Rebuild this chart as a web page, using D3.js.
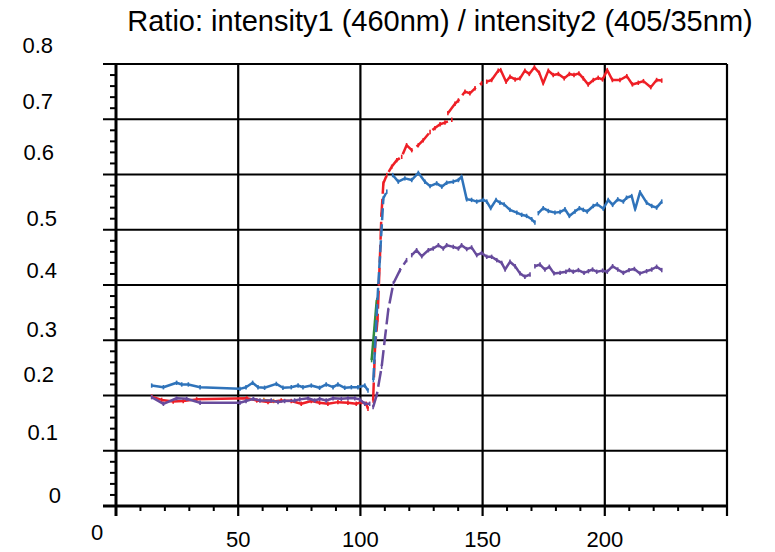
<!DOCTYPE html>
<html>
<head>
<meta charset="utf-8">
<script src="https://cdn.jsdelivr.net/npm/d3@7"></script>
<style>
  html, body { margin: 0; padding: 0; background: #fff; }
  svg { display: block; font-family: "Liberation Sans", Arial, sans-serif; }
</style>
</head>
<body>
<svg id="chart" width="775" height="552"></svg>
<script>
// ---- data ----
const titleText = "Ratio: intensity1 (460nm) / intensity2 (405/35nm)";
const xTickValues = [0, 50, 100, 150, 200];
const xTickLabels = ["0", "50", "100", "150", "200"];
const yTickValues = [0, 0.1, 0.2, 0.3, 0.4, 0.5, 0.6, 0.7, 0.8];
const yTickLabels = ["0", "0.1", "0.2", "0.3", "0.4", "0.5", "0.6", "0.7", "0.8"];

// [time, ratio]; null marks a break in the trace
const redSeries = [
  [14.6,0.198],[18.7,0.192],[23.4,0.189],[27.5,0.190],[33.0,0.193],[53.5,0.195],
  [57.6,0.191],[62.2,0.188],[67.6,0.191],[71.7,0.190],[75.8,0.185],[79.9,0.190],
  [83.3,0.187],[86.7,0.185],[90.8,0.188],[94.9,0.187],[98.3,0.185],[100.4,0.188],
  [102.4,0.185],[103.1,0.176],[105.2,0.191],[106.0,0.288],[107.0,0.337],[108.0,0.451],
  [108.6,0.527],[109.4,0.584],[110.8,0.599],[112.8,0.614],[114.9,0.626],[116.9,0.632],
  [118.9,0.653],[121.0,0.644],[123.7,0.653],[125.7,0.662],[128.5,0.677],[130.5,0.684],
  [132.6,0.691],[134.6,0.694],[137.4,0.699],null,
  [135.8,0.711],[138.7,0.728],[140.1,0.734],[142.8,0.750],[144.8,0.747],[146.9,0.756],
  [149.6,0.765],[151.7,0.768],[153.7,0.771],[156.4,0.788],[157.4,0.789],[159.6,0.768],
  [161.2,0.777],[163.3,0.772],[165.3,0.774],[167.3,0.788],[169.1,0.782],[171.2,0.794],
  [173.2,0.784],[174.8,0.765],[176.9,0.788],[178.9,0.780],[181.0,0.782],[183.4,0.774],
  [185.5,0.782],[187.4,0.780],[189.4,0.783],[191.2,0.774],[193.2,0.763],[195.3,0.771],
  [197.3,0.775],[199.1,0.772],[201.0,0.789],[203.1,0.771],[206.2,0.771],[209.0,0.778],
  [211.3,0.763],[213.7,0.766],[215.8,0.769],[218.8,0.758],[221.2,0.771],[223.3,0.770]
];

const blueSeries = [
  [14.6,0.218],[19.4,0.215],[24.8,0.223],[26.9,0.220],[29.6,0.220],[34.4,0.215],
  [50.7,0.212],[53.2,0.215],[55.9,0.223],[58.1,0.215],[60.8,0.214],[65.6,0.221],
  [68.3,0.214],[71.7,0.215],[74.5,0.218],[76.5,0.215],[79.9,0.218],[83.3,0.214],
  [86.0,0.220],[88.8,0.215],[90.8,0.220],[93.6,0.214],[96.3,0.215],[99.0,0.215],
  [101.8,0.218],[103.1,0.209],[105.3,0.228],[107.2,0.391],[109.4,0.557],[110.8,0.569],
  [113.2,0.599],[115.5,0.587],[118.2,0.593],[121.0,0.590],[123.7,0.603],[126.4,0.587],
  [128.5,0.579],[131.2,0.584],[133.3,0.578],[135.3,0.585],[138.0,0.587],[140.1,0.590],
  [141.4,0.596],[143.5,0.555],[145.5,0.554],[147.6,0.551],[150.3,0.554],[151.7,0.551],
  [153.3,0.539],[155.5,0.554],[157.1,0.549],[158.8,0.546],[161.2,0.536],[164.0,0.531],
  [166.0,0.527],[168.0,0.525],[170.1,0.519],[171.4,0.513],null,
  [172.8,0.530],[174.8,0.539],[176.9,0.534],[179.6,0.531],[181.7,0.532],[183.7,0.537],
  [185.5,0.525],[187.8,0.533],[189.6,0.539],[191.2,0.536],[192.8,0.533],[195.3,0.543],
  [196.9,0.546],[199.4,0.538],[201.4,0.554],[203.2,0.545],[205.3,0.555],[207.6,0.551],
  [208.9,0.558],[211.0,0.561],[212.4,0.537],[214.4,0.568],[217.1,0.549],[219.2,0.543],
  [221.2,0.540],[223.3,0.551]
];

const purpleSeries = [
  [14.6,0.197],[19.4,0.185],[24.8,0.195],[28.9,0.194],[34.4,0.187],[50.7,0.187],
  [53.2,0.190],[56.2,0.194],[58.9,0.191],[63.5,0.191],[66.3,0.188],[69.0,0.190],
  [73.1,0.191],[75.2,0.193],[78.6,0.195],[81.3,0.191],[83.3,0.194],[86.0,0.191],
  [88.8,0.195],[92.2,0.194],[94.9,0.195],[97.7,0.195],[99.7,0.193],[101.8,0.185],
  [103.8,0.185],[105.2,0.179],[106.7,0.201],[108.7,0.252],[110.1,0.306],[111.4,0.355],
  [113.5,0.403],[116.2,0.427],[118.9,0.445],[121.0,0.454],[123.0,0.463],[125.1,0.452],
  [127.8,0.463],[129.8,0.466],[131.9,0.472],[133.9,0.466],[135.3,0.472],[138.0,0.469],
  [140.1,0.466],[141.4,0.472],[143.5,0.465],[145.5,0.468],[147.6,0.454],[149.6,0.458],
  [151.7,0.451],[153.7,0.451],[155.8,0.445],[157.8,0.440],[159.2,0.428],[161.2,0.442],
  [163.3,0.434],[165.3,0.421],[167.3,0.415],[169.4,0.419],null,
  [171.4,0.434],[173.5,0.437],[175.5,0.428],[177.3,0.433],[179.2,0.421],[181.7,0.422],
  [184.1,0.424],[185.5,0.427],[187.1,0.424],[189.2,0.427],[191.5,0.422],[193.3,0.425],
  [195.0,0.428],[196.7,0.424],[199.1,0.426],[201.0,0.424],[203.2,0.434],[205.3,0.428],
  [207.6,0.422],[209.9,0.427],[212.1,0.429],[214.4,0.421],[217.1,0.425],[219.2,0.428],
  [221.2,0.433],[223.3,0.427]
];

const orangeSeries = [[60.5,0.192],[64.5,0.190]];
const greenSeries = [[104.6,0.264],[106.7,0.373]];

// ---- layout / styling ----
const W = 775, H = 552;
const plot = { left: 116, right: 727, top: 64, bottom: 506 };
// label offsets (dx, dy) of each y tick label from its gridline
const yLabelNudge = [[-55,-11],[-58,-19],[-62,-21.5],[-59,-11],[-59,-15],[-59,-12],[-62,-22.5],[-63,-18],[-63,-19]];

const series = [
  { data: orangeSeries, color: "#f0821e", dashRange: null },
  { data: greenSeries,  color: "#2e8b3e", dashRange: null },
  { data: redSeries,    color: "#ee1f26", dashRange: [105, 150], dash: "18,5" },
  { data: blueSeries,   color: "#2f73ba", dashRange: [105, 111], dash: "12,4" },
  { data: purpleSeries, color: "#674b9c", dashRange: [105, 119], dash: "16,5" }
];

const svg = d3.select("#chart");
svg.append("rect").attr("width", W).attr("height", H).attr("fill", "#fff");

const x = d3.scaleLinear().domain([0, 250]).range([plot.left, plot.right]);
const y = d3.scaleLinear().domain([0, 0.8]).range([plot.bottom, plot.top]);

// title
svg.append("text")
  .attr("x", 440).attr("y", 31)
  .attr("text-anchor", "middle")
  .attr("font-size", 29)
  .attr("fill", "#000")
  .text(titleText);

const grid = svg.append("g").attr("stroke", "#000");

// horizontal gridlines (extend left as major ticks)
grid.selectAll("line.h").data(yTickValues).join("line")
  .attr("x1", plot.left - 13).attr("x2", plot.right)
  .attr("y1", d => y(d)).attr("y2", d => y(d))
  .attr("stroke-width", 2.2);

// vertical gridlines (extend below as major ticks)
const xMajors = [50, 100, 150, 200, 250];
grid.selectAll("line.v").data(xMajors).join("line")
  .attr("x1", d => x(d)).attr("x2", d => x(d))
  .attr("y1", plot.top).attr("y2", plot.bottom + 10)
  .attr("stroke-width", 2.2);

// minor ticks
const yMinor = d3.range(1, 40).filter(i => i % 5 !== 0).map(i => i * 0.02);
grid.selectAll("line.ym").data(yMinor).join("line")
  .attr("x1", plot.left - 6).attr("x2", plot.left)
  .attr("y1", d => y(d)).attr("y2", d => y(d))
  .attr("stroke-width", 2);
const xMinor = d3.range(1, 25).filter(i => i % 5 !== 0).map(i => i * 10);
grid.selectAll("line.xm").data(xMinor).join("line")
  .attr("x1", d => x(d)).attr("x2", d => x(d))
  .attr("y1", plot.bottom).attr("y2", plot.bottom + 5)
  .attr("stroke-width", 2);

// main axes
grid.append("line")
  .attr("x1", x(0)).attr("x2", x(0))
  .attr("y1", plot.top).attr("y2", plot.bottom + 10)
  .attr("stroke-width", 3);
grid.append("line")
  .attr("x1", plot.left - 13).attr("x2", plot.right + 1)
  .attr("y1", plot.bottom).attr("y2", plot.bottom)
  .attr("stroke-width", 3);

// y tick labels
svg.append("g").selectAll("text").data(yTickValues).join("text")
  .attr("x", (d, i) => x(0) + yLabelNudge[i][0])
  .attr("y", (d, i) => y(d) + yLabelNudge[i][1])
  .attr("dy", "0.36em")
  .attr("text-anchor", "end")
  .attr("font-size", 22)
  .attr("fill", "#000")
  .text((d, i) => yTickLabels[i]);

// x tick labels
svg.append("g").selectAll("text").data(xTickValues).join("text")
  .attr("x", d => d === 0 ? x(d) - 19 : x(d))
  .attr("y", d => d === 0 ? 539.5 : 547)
  .attr("text-anchor", "middle")
  .attr("font-size", 22)
  .attr("fill", "#000")
  .text((d, i) => xTickLabels[i]);

// data traces
const lines = svg.append("g")
  .attr("fill", "none")
  .attr("stroke-width", 2.5)
  .attr("stroke-linejoin", "round");

series.forEach(s => {
  const r = s.dashRange;
  const solid = d3.line()
    .defined(d => d && (!r || d[0] <= r[0] || d[0] >= r[1]))
    .x(d => x(d[0])).y(d => y(d[1]));
  lines.append("path").datum(s.data)
    .attr("stroke", s.color)
    .attr("d", solid);
  if (r) {
    const dashed = d3.line()
      .defined(d => d && d[0] >= r[0] && d[0] <= r[1])
      .x(d => x(d[0])).y(d => y(d[1]));
    lines.append("path").datum(s.data)
      .attr("stroke", s.color)
      .attr("stroke-dasharray", s.dash)
      .attr("d", dashed);
  }
  // small point markers
  lines.append("g").selectAll("path").data(s.data.filter(d => d)).join("path")
    .attr("transform", d => `translate(${x(d[0])},${y(d[1])})`)
    .attr("d", "M0,-2.2V2.2")
    .attr("stroke", s.color)
    .attr("stroke-width", 1.6);
});
</script>
</body>
</html>
